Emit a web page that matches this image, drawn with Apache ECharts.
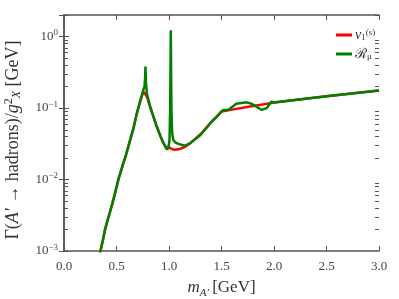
<!DOCTYPE html>
<html><head><meta charset="utf-8">
<script src="https://cdn.jsdelivr.net/npm/echarts@6/dist/echarts.min.js"></script>
<style>html,body{margin:0;padding:0;background:#fff}#c{width:399px;height:299px}</style>
</head><body><div id="c"></div>
<script>
// v1^(s) curve
const redX = [0.34,0.35,0.37,0.39,0.415,0.44,0.46,0.48,0.5,0.52,0.545,0.565,0.59,0.613,0.635,0.66,0.69,0.724,0.745,0.76,0.77,0.79,0.82,0.85,0.883,0.92,0.946,0.965,0.978,0.99,1.0,1.02,1.05,1.09,1.15,1.2,1.3,1.4,1.454,1.5,1.55,1.6,1.8,2.0,2.5,3.0];
const redY = [0.00092,0.00105,0.0014,0.00197,0.0027,0.0036,0.0046,0.0059,0.0078,0.0103,0.0135,0.0169,0.022,0.029,0.038,0.051,0.08,0.122,0.152,0.168,0.163,0.143,0.104,0.077,0.055,0.04,0.0325,0.029,0.0268,0.029,0.0295,0.027,0.026,0.0264,0.0285,0.032,0.043,0.063,0.076,0.0895,0.092,0.095,0.107,0.119,0.146,0.176];
// R_mu curve
const greenX = [0.34,0.35,0.37,0.39,0.415,0.44,0.46,0.48,0.5,0.52,0.545,0.565,0.59,0.613,0.635,0.66,0.69,0.724,0.745,0.758,0.767,0.772,0.776,0.78,0.786,0.79,0.82,0.85,0.883,0.92,0.946,0.965,0.982,0.995,1.005,1.011,1.017,1.023,1.03,1.04,1.06,1.09,1.15,1.2,1.3,1.42,1.454,1.486,1.517,1.565,1.6,1.64,1.74,1.787,1.84,1.883,1.93,1.975,2.0,2.5,3.0];
const greenY = [0.00092,0.00105,0.0014,0.00197,0.0027,0.0036,0.0046,0.0059,0.0078,0.0103,0.0135,0.0169,0.022,0.029,0.038,0.051,0.08,0.122,0.158,0.185,0.2,0.26,0.38,0.24,0.18,0.158,0.105,0.077,0.055,0.04,0.0325,0.029,0.0262,0.028,0.036,0.1,1.22,0.1,0.045,0.036,0.033,0.0315,0.0297,0.032,0.042,0.068,0.075,0.085,0.094,0.094,0.103,0.115,0.12,0.1145,0.103,0.094,0.0995,0.123,0.119,0.146,0.176];
const xTicks = [0, 3, 0.5];
const yRange = [0.001, 2];
const seriesNames = ['v1s', 'Rmu'];
// log minor tick values (2..9 per decade)
const minorMult = [2,3,4,5,6,7,8,9];
const decades = [-3,-2,-1,0];

const FF = 'Liberation Serif';
const AX = '#555';
const pair = (xs, ys) => xs.map((x, i) => [x, ys[i]]);
const minorVals = [];
decades.forEach(k => minorMult.forEach(m => {
  const v = m * Math.pow(10, k);
  if (v <= yRange[1]) minorVals.push([1.5, v]);
}));

const chart = echarts.init(document.getElementById('c'), null, {renderer: 'canvas'});
const yLabel = v => {
  const e = Math.log10(v);
  if (Math.abs(e - Math.round(e)) > 1e-6) return '';
  const k = Math.round(e);
  return '{b|10}{s|' + (k < 0 ? '\u2212' + (-k) : k) + '}';
};
const common = {fontFamily: FF, color: '#444'};
chart.setOption({
  animation: false,
  grid: {left: 64, right: 20, top: 15, bottom: 48, containLabel: false, outerBoundsMode: 'none'},
  legend: {
    data: seriesNames, orient: 'vertical', left: 331, top: 23,
    itemWidth: 16, itemHeight: 3, itemGap: 5, icon: 'rect',
    textStyle: {fontFamily: FF, fontSize: 14, color: '#333', padding: [0,0,0,-2],
      rich: {
        i: {fontFamily: FF, fontStyle: 'italic', fontSize: 14, color: '#333', lineHeight: 14},
        sub: {fontFamily: FF, fontSize: 9, color: '#333', verticalAlign: 'bottom', lineHeight: 14},
        sup: {fontFamily: FF, fontSize: 9, color: '#333', verticalAlign: 'top', lineHeight: 14},
        r: {fontFamily: FF, fontSize: 14, color: '#333', lineHeight: 14}
      }},
    formatter: n => n === 'v1s' ? '{i|v}{sub|1}{sup|(s)}' : '{r|\u211B}{sub|\u03BC}'
  },
  xAxis: [{
    type: 'value', min: xTicks[0], max: xTicks[1], interval: xTicks[2],
    axisLine: {lineStyle: {color: AX, width: 1.5}},
    axisTick: {inside: true, length: 5, lineStyle: {color: AX}},
    splitLine: {show: false},
    axisLabel: {...common, fontSize: 13, margin: 9, formatter: v => v.toFixed(1)},
    name: '{i|m}{sub|A\u2032} {n|[GeV]}', nameLocation: 'middle', nameGap: 26,
    nameTextStyle: {rich: {
      i: {fontFamily: FF, fontStyle: 'italic', fontSize: 17, color: '#333', lineHeight: 18},
      sub: {fontFamily: FF, fontStyle: 'italic', fontSize: 11, color: '#333', verticalAlign: 'bottom', lineHeight: 22},
      n: {fontFamily: FF, fontSize: 17, color: '#333', lineHeight: 18}
    }}
  }, {
    type: 'value', position: 'top', min: xTicks[0], max: xTicks[1], interval: xTicks[2],
    axisLine: {lineStyle: {color: AX, width: 1.5}},
    axisTick: {inside: true, length: 5, lineStyle: {color: AX}},
    splitLine: {show: false}, axisLabel: {show: false}
  }],
  yAxis: [{
    type: 'log', logBase: 10, min: yRange[0], max: yRange[1],
    axisLine: {show: true, lineStyle: {color: AX, width: 1.5}},
    axisTick: {inside: true, length: 5, lineStyle: {color: AX}},
    splitLine: {show: false},
    axisLabel: {margin: 6, formatter: yLabel, rich: {
      b: {fontFamily: FF, fontSize: 13, color: '#444', lineHeight: 16},
      s: {fontFamily: FF, fontSize: 9, color: '#444', verticalAlign: 'top', lineHeight: 16}
    }},
    name: '{n|\u0393(}{i|A\u2032}{n| \u2192 hadrons)/}{i|g}{sup|2}{sub|X}{n| [GeV]}',
    nameLocation: 'middle', nameGap: 41,
    nameTextStyle: {padding: [0, 14, 0, 0], rich: {
      n: {fontFamily: FF, fontSize: 18, color: '#333', lineHeight: 20},
      i: {fontFamily: FF, fontStyle: 'italic', fontSize: 18, color: '#333', lineHeight: 20},
      sup: {fontFamily: FF, fontSize: 12, color: '#333', verticalAlign: 'top', lineHeight: 20},
      sub: {fontFamily: FF, fontStyle: 'italic', fontSize: 12, color: '#333', verticalAlign: 'bottom', lineHeight: 20}
    }}
  }, {
    type: 'log', logBase: 10, min: yRange[0], max: yRange[1], position: 'right',
    axisLine: {show: true, lineStyle: {color: AX, width: 1.5}},
    axisTick: {inside: true, length: 5, lineStyle: {color: AX}},
    splitLine: {show: false}, axisLabel: {show: false}
  }],
  series: [
    {type: 'custom', silent: true, clip: false, data: minorVals, z: 5,
     encode: {x: 0, y: 1},
     renderItem: (params, api) => {
       const p = api.coord([api.value(0), api.value(1)]);
       const cs = params.coordSys;
       const y = Math.round(p[1]) + 0.5;
       return {type: 'group', children: [
         {type: 'line', shape: {x1: cs.x, y1: y, x2: cs.x + 4, y2: y}, style: {stroke: AX, lineWidth: 1}},
         {type: 'line', shape: {x1: cs.x + cs.width - 4, y1: y, x2: cs.x + cs.width, y2: y}, style: {stroke: AX, lineWidth: 1}}
       ]};
     }},
    {name: 'v1s', type: 'line', data: pair(redX, redY), showSymbol: false, symbol: 'none', clip: true,
     lineStyle: {color: '#ff0000', width: 2.5}, itemStyle: {color: '#ff0000'}},
    {name: 'Rmu', type: 'line', data: pair(greenX, greenY), showSymbol: false, symbol: 'none', clip: true,
     lineStyle: {color: '#008000', width: 2.5}, itemStyle: {color: '#008000'}}
  ]
});
</script></body></html>
